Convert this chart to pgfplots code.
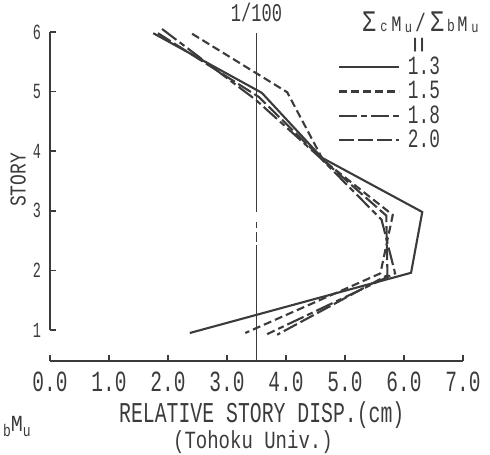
\documentclass[border=0pt]{standalone}
\usepackage{pgfplots}
\pgfplotsset{compat=1.18}
\usepackage{graphicx}
\usepackage{fontspec}
\newfontfamily\tw{Liberation Mono}
\newcommand\sq[3]{{\fontsize{#1}{#1}\selectfont\tw\scalebox{1}[#2]{#3}}}
\newcommand\XL[1]{\sq{19.5bp}{1.5}{#1}}
\newcommand\YL[1]{\sq{13.5bp}{1.6}{#1}}
\newcommand\LL[1]{\sq{17.8bp}{1.48}{#1}}
\definecolor{ink}{gray}{0.23}
\begin{document}
\begin{tikzpicture}
\begin{axis}[
  x=59bp, y=59.6bp,
  xmin=0, xmax=7, ymin=0.48, ymax=6,
  axis x line*=bottom, axis y line*=left,
  y axis line style={draw=none},
  x axis line style={line width=1.6bp, ink},
  clip=false,
  tick align=inside, major tick length=6bp,
  tick style={line width=1.6bp, ink},
  xtick={0,1,2,3,4,5,6,7},
  xticklabels={\XL{0.0},\XL{1.0},\XL{2.0},\XL{3.0},\XL{4.0},\XL{5.0},\XL{6.0},\XL{7.0}},
  ytick={1,2,3,4,5,6},
  yticklabels={\YL{1},\YL{2},\YL{3},\YL{4},\YL{5},\YL{6}},
  xticklabel style={anchor=center, yshift=-21bp, text=ink, inner sep=0pt},
  yticklabel style={anchor=center, xshift=-13bp, text=ink, inner sep=0pt},
  legend cell align=left,
  legend style={draw=none, fill=none, at={(0.697,0.930)}, anchor=north west,
    inner sep=0pt, outer sep=0pt, row sep=0pt, text=ink,
    nodes={inner xsep=4bp, inner ysep=0pt, text height=19.65bp, text depth=4.65bp}},
  legend image code/.code={\draw[#1] (0bp,0bp) -- (60bp,0bp); \path (64bp,0bp);},
]
% 1/100 reference line
\addplot[forget plot, line width=1.2bp, ink] coordinates {(3.5,2.98) (3.5,5.98)};
\addplot[forget plot, line width=1.2bp, ink] coordinates {(3.5,2.71) (3.5,2.81)};
\addplot[forget plot, line width=1.2bp, ink] coordinates {(3.5,2.48) (3.5,2.64)};
\addplot[forget plot, line width=1.2bp, ink] coordinates {(3.5,0.48) (3.5,2.43)};
% 1.3
\addplot[line width=2.1bp, ink] coordinates {
 (1.75,5.98) (3.59,4.98) (4.61,3.89) (6.31,2.98) (6.12,1.96) (2.37,0.95)};
\addlegendentry{\LL{1.3}}
% 1.5
\addplot[line width=2.1bp, ink, dash pattern=on 8bp off 4bp] coordinates {
 (2.41,5.97) (4.02,4.99) (4.63,3.85) (5.81,2.93) (5.60,1.95) (3.31,0.95)};
\addlegendentry{\LL{1.5}}
% 1.8
\addplot[line width=2.1bp, ink, dash pattern=on 18bp off 4bp on 6bp off 4bp] coordinates {
 (1.90,6.05) (3.49,4.86) (4.58,3.89) (5.62,2.85) (5.85,1.95) (3.68,0.93)};
\addlegendentry{\LL{1.8}}
% 2.0
\addplot[line width=2.1bp, ink, dash pattern=on 15bp off 4bp] coordinates {
 (1.83,5.98) (3.54,4.91) (4.63,3.85) (5.70,2.92) (5.72,1.92) (3.85,0.92)};
\addlegendentry{\LL{2.0}}
% y axis line
\draw[line width=1.6bp, ink] (axis cs:0,1) -- (axis cs:0,6);
% texts
\node[text=ink, inner sep=0pt] at (axis cs:3.5,6.33) {\sq{17bp}{1.5}{1/100}};
\node[text=ink, inner sep=0pt, rotate=90] at (axis cs:-0.54,3.52) {\sq{18bp}{1.26}{STORY}};
\node[text=ink, inner sep=0pt, anchor=base] at (axis cs:3.59,-0.55) {\sq{19.8bp}{1.45}{RELATIVE STORY DISP.(cm)}};
\node[text=ink, inner sep=0pt, anchor=base] at (axis cs:3.44,-0.99) {\sq{19bp}{1.3}{(Tohoku Univ.)}};
\node[text=ink, inner sep=0pt, anchor=base] at (axis cs:6.27,6.0) {%
  \makebox[19bp]{\sq{23bp}{1.3}{Σ}}%
  \makebox[11bp]{\sq{12bp}{1.3}{c}}%
  \makebox[14bp]{\sq{17bp}{1.3}{M}}%
  \makebox[10bp]{\raisebox{-1bp}{\sq{12bp}{1.3}{u}}}%
  \makebox[14bp]{\sq{18bp}{1.4}{/}}%
  \makebox[19bp]{\sq{23bp}{1.3}{Σ}}%
  \makebox[9bp]{\sq{13bp}{1.3}{b}}%
  \makebox[14bp]{\sq{17bp}{1.3}{M}}%
  \makebox[11bp]{\raisebox{-1bp}{\sq{12bp}{1.3}{u}}}};
\node[text=ink, inner sep=0pt] at (axis cs:6.29,5.78) {\rotatebox{90}{\sq{28bp}{1.0}{=}}};
\node[text=ink, inner sep=0pt, anchor=base] at (axis cs:-0.56,-0.70) {%
  \raisebox{-5bp}{\sq{13bp}{1.3}{b}}\sq{20bp}{1.15}{M}\raisebox{-5bp}{\sq{13bp}{1.3}{u}}};
% bounding box
\path (axis cs:-0.847,6.537) rectangle (axis cs:7.458,-1.0805);
\end{axis}
\end{tikzpicture}
\end{document}
